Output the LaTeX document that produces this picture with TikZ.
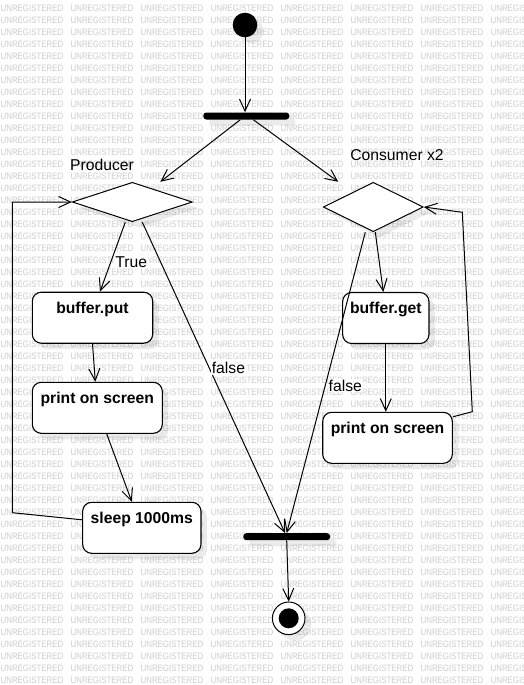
\documentclass[tikz,border=0pt]{standalone}
\usepackage{fontspec}
\setmainfont{Liberation Sans}
\usetikzlibrary{shapes.geometric, arrows.meta, positioning, calc, shadows}

\tikzset{
  wm/.style={inner sep=0pt, text=black!20, xscale=0.85, font=\fontsize{9.3}{9.3}\selectfont},
  soft/.style={drop shadow={shadow xshift=6pt, shadow yshift=-6pt, opacity=0.08, fill=black}},
  actbox/.style={draw, line width=1.1pt, rounded corners=9pt, fill=white, soft, inner sep=0pt,
    minimum height=51pt, text height=21pt, text depth=30pt, font=\fontsize{15.7}{18}\selectfont\bfseries},
  decision/.style={diamond, draw, line width=1pt, fill=white, soft, inner sep=0pt},
  bar/.style={rectangle, fill=black, rounded corners=3pt, minimum height=7pt, inner sep=0pt, soft},
  startstate/.style={circle, fill=black, minimum size=24.6pt, inner sep=0pt, soft},
  endstate/.style={circle, draw, line width=1pt, fill=white, minimum size=32.6pt, inner sep=0pt, soft,
    path picture={\fill[black] (path picture bounding box.center) circle (10pt);}},
  title/.style={inner sep=0pt, font=\fontsize{15.7}{18}\selectfont},
  lbl/.style={fill=white, inner sep=1pt, font=\fontsize{15.7}{18}\selectfont},
  arr/.style={-{Straight Barb[length=12pt,width=11pt]}, line width=1pt}
}

\begin{document}
\begin{tikzpicture}[x=1pt, y=-1pt]
\useasboundingbox (0,0) rectangle (523,685);
% watermark
\begin{scope}
\clip (0,0) rectangle (523,685);
\foreach \r in {0,...,56}
  \foreach \c in {0,...,7}
    \node[wm] at (32+70*\c, 8.7+12*\r) {UNREGISTERED};
\end{scope}

% start and fork
\node[startstate] (init) at (245,25) {};
\node[bar, minimum width=86pt] (fork) at (246.3,116) {};

% Producer
\node[title] at (102,165) {Producer};
\node[decision, minimum width=120pt, minimum height=39.4pt] (prod) at (132.3,202) {};
\node[actbox, minimum width=120.4pt] (put) at (92.5,317.7) {buffer.put};
\node[actbox, minimum width=130pt] (printL) at (97.3,407.8) {print on screen};
\node[actbox, minimum width=118.3pt] (sleep) at (141.8,527.8) {sleep 1000ms};

% Consumer x2
\node[title] at (397,155) {Consumer x2};
\node[decision, minimum width=100pt, minimum height=49.4pt] (cons) at (373.3,207) {};
\node[actbox, minimum width=86.3pt] (get) at (385.8,318) {buffer.get};
\node[actbox, minimum width=129.6pt] (printR) at (387.5,437.8) {print on screen};

% join and end
\node[bar, minimum width=86.7pt] (join) at (286.7,536.7) {};
\node[endstate] (final) at (288.7,618.3) {};

\coordinate (loopL) at (12.3,512.7);
\coordinate (loopRb) at (472.3,411.7);
\coordinate (loopRt) at (462.3,212.3);

% connectors
\draw[arr] (init) -- (init |- fork.north);
\draw[arr] ([xshift=-6pt]fork.south) -- ([xshift=28pt]prod.north);
\draw[arr] ([xshift=7pt]fork.south) -- ([xshift=-35pt]cons.north);

\draw[arr] ([xshift=-7pt]prod.south) -- node[lbl, pos=0.57, anchor=west, xshift=3pt] {True} ([xshift=7.5pt]put.north);
\draw[arr] ([xshift=10pt]prod.south) -- node[lbl, pos=0.47, anchor=west, xshift=1pt] {false} ([xshift=-1.7pt]join.north);
\draw[arr] (put.south) -- ([xshift=-2pt]printL.north);
\draw[arr] ([xshift=9.4pt]printL.south) -- ([xshift=-10pt]sleep.north);
\draw[arr] ([yshift=8pt]sleep.west) -- (loopL) -- (loopL |- prod.west) -- (prod.west);

\draw[arr] ([xshift=2pt]cons.south) -- ([xshift=-2.5pt]get.north);
\draw[arr] ([xshift=-8pt]cons.south) -- node[lbl, pos=0.51, anchor=west, xshift=2pt] {false} (join.north);
\draw[arr] (get.south) -- (get.south |- printR.north);
\draw[arr] ([yshift=21pt]printR.east) -- (loopRb) -- (loopRt) -- (cons.east);

\draw[arr] (join.south) -- (final.north);
\end{tikzpicture}
\end{document}
